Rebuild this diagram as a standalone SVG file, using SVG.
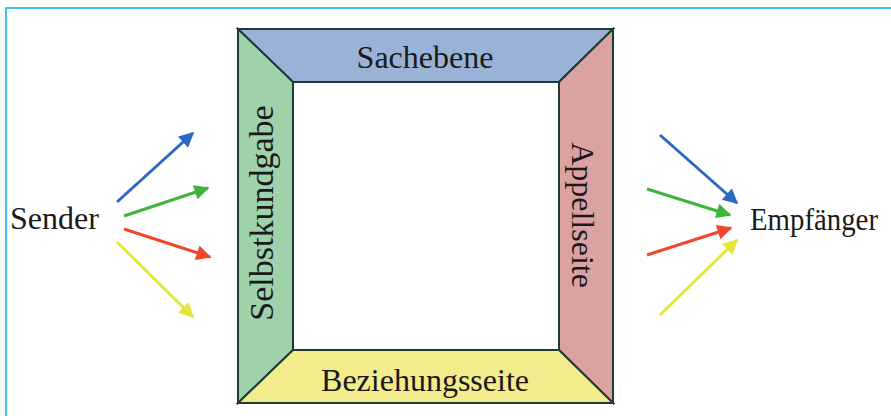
<svg xmlns="http://www.w3.org/2000/svg" width="891" height="416" viewBox="0 0 891 416">
  <style>
    .frame { fill: none; stroke: #3cc3f0; stroke-width: 2; }
    .side { stroke: #1f3b38; stroke-width: 2; stroke-linejoin: miter; }
    .label { font-family: "Liberation Serif", "Times New Roman", serif; font-size: 32px; fill: #1a1a1a; }
    .arrow { stroke-width: 3; fill: none; stroke-linecap: butt; }
  </style>
  <defs>
    <marker id="head-blue" viewBox="0 0 10 10" refX="9" refY="5" markerWidth="5.5" markerHeight="5" orient="auto" markerUnits="strokeWidth">
      <path d="M0,0 L10,5 L0,10 z" fill="#2a68c4"/>
    </marker>
    <marker id="head-green" viewBox="0 0 10 10" refX="9" refY="5" markerWidth="5.5" markerHeight="5" orient="auto" markerUnits="strokeWidth">
      <path d="M0,0 L10,5 L0,10 z" fill="#3db53a"/>
    </marker>
    <marker id="head-red" viewBox="0 0 10 10" refX="9" refY="5" markerWidth="5.5" markerHeight="5" orient="auto" markerUnits="strokeWidth">
      <path d="M0,0 L10,5 L0,10 z" fill="#f0462a"/>
    </marker>
    <marker id="head-yellow" viewBox="0 0 10 10" refX="9" refY="5" markerWidth="5.5" markerHeight="5" orient="auto" markerUnits="strokeWidth">
      <path d="M0,0 L10,5 L0,10 z" fill="#e6e63a"/>
    </marker>
  </defs>

  <rect width="891" height="416" fill="#ffffff"/>
  <!-- outer frame -->
  <path class="frame" d="M6,416 L6,8 L891,8"/>

  <!-- four sides of the message square -->
  <g id="sachebene">
    <polygon class="side" points="238,29 613,29 559,82 293,82" fill="#9bb2d8"/>
    <text class="label" x="425" y="68" text-anchor="middle">Sachebene</text>
  </g>
  <g id="selbstkundgabe">
    <polygon class="side" points="238,29 293,82 293,350 238,403" fill="#9ed2aa"/>
    <text class="label" transform="translate(273,213) rotate(-90)" text-anchor="middle" style="font-size:34px">Selbstkundgabe</text>
  </g>
  <g id="appellseite">
    <polygon class="side" points="613,29 613,403 559,350 559,82" fill="#daa2a0"/>
    <text class="label" transform="translate(572,215) rotate(90)" text-anchor="middle">Appellseite</text>
  </g>
  <g id="beziehungsseite">
    <polygon class="side" points="293,350 559,350 613,403 238,403" fill="#f2ec8c"/>
    <text class="label" x="425" y="391" text-anchor="middle">Beziehungsseite</text>
  </g>

  <g id="sender">
    <text class="label" x="10" y="229">Sender</text>
  </g>
  <g id="empfaenger">
    <text class="label" x="750" y="230" textLength="128" lengthAdjust="spacingAndGlyphs">Empfänger</text>
  </g>

  <g id="connectors">
    <line class="arrow" x1="117" y1="202" x2="193" y2="133" stroke="#2a68c4" marker-end="url(#head-blue)"/>
    <line class="arrow" x1="124" y1="216" x2="208" y2="188" stroke="#3db53a" marker-end="url(#head-green)"/>
    <line class="arrow" x1="124" y1="229" x2="210" y2="257" stroke="#f0462a" marker-end="url(#head-red)"/>
    <line class="arrow" x1="117" y1="242" x2="193" y2="317" stroke="#e6e63a" marker-end="url(#head-yellow)"/>

    <line class="arrow" x1="660" y1="135" x2="737" y2="203" stroke="#2a68c4" marker-end="url(#head-blue)"/>
    <line class="arrow" x1="647" y1="189" x2="730" y2="215" stroke="#3db53a" marker-end="url(#head-green)"/>
    <line class="arrow" x1="647" y1="255" x2="731" y2="228" stroke="#f0462a" marker-end="url(#head-red)"/>
    <line class="arrow" x1="660" y1="315" x2="737" y2="240" stroke="#e6e63a" marker-end="url(#head-yellow)"/>
  </g>
</svg>
